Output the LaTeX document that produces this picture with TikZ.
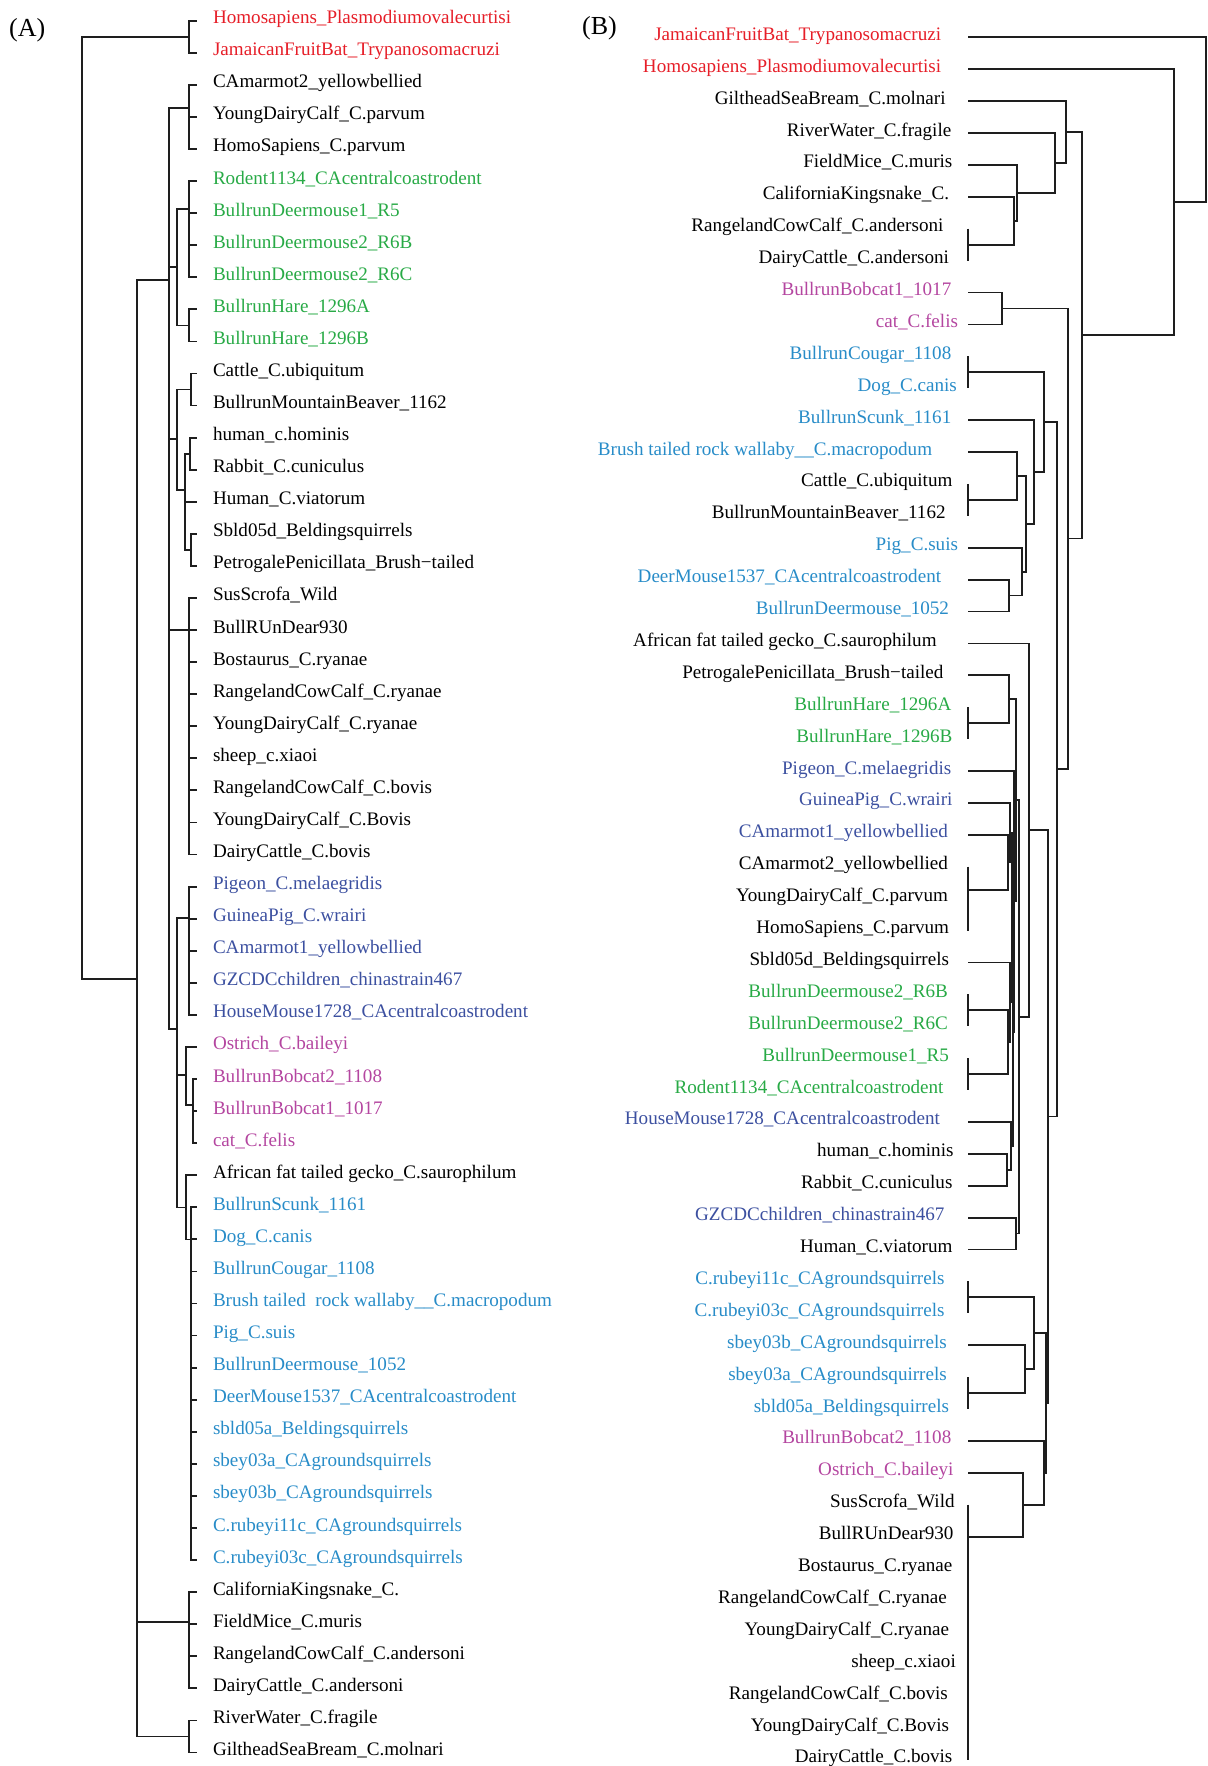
\documentclass[tikz,border=0pt]{standalone}
\usepackage{fontspec}
\setmainfont{Liberation Serif}
\definecolor{cr}{RGB}{230,30,40}
\definecolor{cg}{RGB}{40,170,70}
\definecolor{cdb}{RGB}{60,80,160}
\definecolor{clb}{RGB}{40,140,200}
\definecolor{cm}{RGB}{180,70,160}
\definecolor{ck}{RGB}{0,0,0}
\definecolor{lc}{RGB}{30,30,30}
\tikzset{
  tree/.style={line width=1.8pt, draw=lc},
  lab/.style={inner sep=0pt, font=\fontsize{19.1}{23}\selectfont},
  plab/.style={inner sep=0pt, font=\fontsize{26}{30}\selectfont, anchor=base west}
}
\begin{document}
\begin{tikzpicture}[x=1pt,y=-1pt]
\useasboundingbox (0,0) rectangle (1207,1766);
\node[plab] (pA) at (9,37) {(A)};
\node[plab] (pB) at (582,35) {(B)};
% ---------------- Panel A leaves ----------------
\foreach \i/\t/\c in {
1/Homosapiens\_Plasmodiumovalecurtisi/cr,
2/JamaicanFruitBat\_Trypanosomacruzi/cr,
3/CAmarmot2\_yellowbellied/ck,
4/YoungDairyCalf\_C.parvum/ck,
5/HomoSapiens\_C.parvum/ck,
6/Rodent1134\_CAcentralcoastrodent/cg,
7/BullrunDeermouse1\_R5/cg,
8/BullrunDeermouse2\_R6B/cg,
9/BullrunDeermouse2\_R6C/cg,
10/BullrunHare\_1296A/cg,
11/BullrunHare\_1296B/cg,
12/Cattle\_C.ubiquitum/ck,
13/BullrunMountainBeaver\_1162/ck,
14/human\_c.hominis/ck,
15/Rabbit\_C.cuniculus/ck,
16/Human\_C.viatorum/ck,
17/Sbld05d\_Beldingsquirrels/ck,
18/PetrogalePenicillata\_Brush−tailed/ck,
19/SusScrofa\_Wild/ck,
20/BullRUnDear930/ck,
21/Bostaurus\_C.ryanae/ck,
22/RangelandCowCalf\_C.ryanae/ck,
23/YoungDairyCalf\_C.ryanae/ck,
24/sheep\_c.xiaoi/ck,
25/RangelandCowCalf\_C.bovis/ck,
26/YoungDairyCalf\_C.Bovis/ck,
27/DairyCattle\_C.bovis/ck,
28/Pigeon\_C.melaegridis/cdb,
29/GuineaPig\_C.wrairi/cdb,
30/CAmarmot1\_yellowbellied/cdb,
31/GZCDCchildren\_chinastrain467/cdb,
32/HouseMouse1728\_CAcentralcoastrodent/cdb,
33/Ostrich\_C.baileyi/cm,
34/BullrunBobcat2\_1108/cm,
35/BullrunBobcat1\_1017/cm,
36/cat\_C.felis/cm,
37/African fat tailed gecko\_C.saurophilum/ck,
38/BullrunScunk\_1161/clb,
39/Dog\_C.canis/clb,
40/BullrunCougar\_1108/clb,
41/Brush tailed\ \ rock wallaby\_\_C.macropodum/clb,
42/Pig\_C.suis/clb,
43/BullrunDeermouse\_1052/clb,
44/DeerMouse1537\_CAcentralcoastrodent/clb,
45/sbld05a\_Beldingsquirrels/clb,
46/sbey03a\_CAgroundsquirrels/clb,
47/sbey03b\_CAgroundsquirrels/clb,
48/C.rubeyi11c\_CAgroundsquirrels/clb,
49/C.rubeyi03c\_CAgroundsquirrels/clb,
50/CaliforniaKingsnake\_C./ck,
51/FieldMice\_C.muris/ck,
52/RangelandCowCalf\_C.andersoni/ck,
53/DairyCattle\_C.andersoni/ck,
54/RiverWater\_C.fragile/ck,
55/GiltheadSeaBream\_C.molnari/ck}{
  \coordinate (aL\i) at (197,{20.7+(\i-1)*32.07});
  \node[lab, anchor=base west, text=\c] (aT\i) at (212.8,{23.7+(\i-1)*32.07}) {\t};
}
% ---------------- Panel A internal nodes ----------------
\coordinate (aR) at (82.3,508);
\coordinate (n12) at (189,36.75);
\coordinate (nK) at (136.7,979);
\coordinate (nX) at (169,280);
\coordinate (n35) at (189,108);
\coordinate (n611) at (176.7,267);
\coordinate (n69) at (189,209);
\coordinate (n1011) at (189,325.4);
\coordinate (n1218) at (176.7,439);
\coordinate (n1213) at (190.7,389.5);
\coordinate (n1418) at (185,490);
\coordinate (n1415) at (190,453.6);
\coordinate (n1718) at (190.7,550);
\coordinate (n1927) at (189,630);
\coordinate (n2849) at (176.7,1029);
\coordinate (n2832) at (189,918);
\coordinate (n3336) at (185.7,1075);
\coordinate (n3436) at (192.7,1105);
\coordinate (n3749) at (185.7,1207.5);
\coordinate (n3849) at (190.7,1239.4);
\coordinate (n5053) at (189,1622);
\coordinate (n5455) at (189,1736.5);
\draw[tree] (aR) |- (n12) (aR) |- (nK);
\draw[tree] (n12) |- (aL1) (n12) |- (aL2);
\draw[tree] (nK) |- (nX) (nK) |- (n5053) (nK) |- (n5455);
\draw[tree] (nX) |- (n35) (nX) |- (n611) (nX) |- (n1218) (nX) |- (n1927) (nX) |- (n2849);
\draw[tree] (n35) |- (aL3) (n35) |- (aL4) (n35) |- (aL5);
\draw[tree] (n611) |- (n69) (n611) |- (n1011);
\draw[tree] (n69) |- (aL6) (n69) |- (aL7) (n69) |- (aL8) (n69) |- (aL9);
\draw[tree] (n1011) |- (aL10) (n1011) |- (aL11);
\draw[tree] (n1218) |- (n1213) (n1218) |- (n1418);
\draw[tree] (n1213) |- (aL12) (n1213) |- (aL13);
\draw[tree] (n1418) |- (n1415) (n1418) |- (aL16) (n1418) |- (n1718);
\draw[tree] (n1415) |- (aL14) (n1415) |- (aL15);
\draw[tree] (n1718) |- (aL17) (n1718) |- (aL18);
\foreach \k in {19,...,27} { \draw[tree] (n1927) |- (aL\k); }
\draw[tree] (n2849) |- (n2832) (n2849) |- (n3336) (n2849) |- (n3749);
\foreach \k in {28,...,32} { \draw[tree] (n2832) |- (aL\k); }
\draw[tree] (n3336) |- (aL33) (n3336) |- (n3436);
\draw[tree] (n3436) |- (aL34) (n3436) |- (aL35) (n3436) |- (aL36);
\draw[tree] (n3749) |- (aL37) (n3749) |- (n3849);
\foreach \k in {38,...,49} { \draw[tree] (n3849) |- (aL\k); }
\foreach \k in {50,...,53} { \draw[tree] (n5053) |- (aL\k); }
\draw[tree] (n5455) |- (aL54) (n5455) |- (aL55);
% ---------------- Panel B leaves ----------------
\foreach \i/\r/\t/\c in {
1/941.3/JamaicanFruitBat\_Trypanosomacruzi/cr,
2/941.3/Homosapiens\_Plasmodiumovalecurtisi/cr,
3/945.8/GiltheadSeaBream\_C.molnari/ck,
4/951.5/RiverWater\_C.fragile/ck,
5/952.6/FieldMice\_C.muris/ck,
6/949.2/CaliforniaKingsnake\_C./ck,
7/943.6/RangelandCowCalf\_C.andersoni/ck,
8/949.2/DairyCattle\_C.andersoni/ck,
9/951.5/BullrunBobcat1\_1017/cm,
10/958.2/cat\_C.felis/cm,
11/951.5/BullrunCougar\_1108/clb,
12/957.1/Dog\_C.canis/clb,
13/951.5/BullrunScunk\_1161/clb,
14/932.3/Brush tailed rock wallaby\_\_C.macropodum/clb,
15/952.6/Cattle\_C.ubiquitum/ck,
16/945.8/BullrunMountainBeaver\_1162/ck,
17/958.2/Pig\_C.suis/clb,
18/941.3/DeerMouse1537\_CAcentralcoastrodent/clb,
19/949.2/BullrunDeermouse\_1052/clb,
20/936.8/African fat tailed gecko\_C.saurophilum/ck,
21/943.6/PetrogalePenicillata\_Brush−tailed/ck,
22/951.5/BullrunHare\_1296A/cg,
23/952.6/BullrunHare\_1296B/cg,
24/951.5/Pigeon\_C.melaegridis/cdb,
25/952.6/GuineaPig\_C.wrairi/cdb,
26/948.1/CAmarmot1\_yellowbellied/cdb,
27/948.1/CAmarmot2\_yellowbellied/ck,
28/948.1/YoungDairyCalf\_C.parvum/ck,
29/949.2/HomoSapiens\_C.parvum/ck,
30/949.2/Sbld05d\_Beldingsquirrels/ck,
31/948.1/BullrunDeermouse2\_R6B/cg,
32/948.1/BullrunDeermouse2\_R6C/cg,
33/949.2/BullrunDeermouse1\_R5/cg,
34/943.6/Rodent1134\_CAcentralcoastrodent/cg,
35/940.2/HouseMouse1728\_CAcentralcoastrodent/cdb,
36/953.7/human\_c.hominis/ck,
37/952.6/Rabbit\_C.cuniculus/ck,
38/944.7/GZCDCchildren\_chinastrain467/cdb,
39/952.6/Human\_C.viatorum/ck,
40/944.7/C.rubeyi11c\_CAgroundsquirrels/clb,
41/944.7/C.rubeyi03c\_CAgroundsquirrels/clb,
42/947.0/sbey03b\_CAgroundsquirrels/clb,
43/947.0/sbey03a\_CAgroundsquirrels/clb,
44/949.2/sbld05a\_Beldingsquirrels/clb,
45/951.5/BullrunBobcat2\_1108/cm,
46/953.7/Ostrich\_C.baileyi/cm,
47/954.8/SusScrofa\_Wild/ck,
48/953.7/BullRUnDear930/ck,
49/952.6/Bostaurus\_C.ryanae/ck,
50/947.0/RangelandCowCalf\_C.ryanae/ck,
51/949.2/YoungDairyCalf\_C.ryanae/ck,
52/956.0/sheep\_c.xiaoi/ck,
53/948.1/RangelandCowCalf\_C.bovis/ck,
54/949.2/YoungDairyCalf\_C.Bovis/ck,
55/952.6/DairyCattle\_C.bovis/ck}{
  \coordinate (bL\i) at (968,{37.3+(\i-1)*31.9});
  \node[lab, anchor=base east, text=\c] (bT\i) at (\r,{40.3+(\i-1)*31.9}) {\t};
}
% zero-length sister groups (bars)
\coordinate (bar78) at (968,244.65);
\coordinate (bar1112) at (968,372.25);
\coordinate (bar1516) at (968,499.85);
\coordinate (bar2223) at (968,723.15);
\coordinate (bar2729) at (968,890);
\coordinate (bar3132) at (968,1010.25);
\coordinate (bar3334) at (968,1074.05);
\coordinate (bar4041) at (968,1297.35);
\coordinate (bar4344) at (968,1393.05);
\coordinate (bar4755) at (968,1536.6);
\draw[tree] (bL7) -- (bL8) (bL11) -- (bL12) (bL15) -- (bL16) (bL22) -- (bL23)
  (bL27) -- (bL29) (bL31) -- (bL32) (bL33) -- (bL34) (bL40) -- (bL41)
  (bL43) -- (bL44) (bL47) -- (bL55);
% ---------------- Panel B internal nodes ----------------
\coordinate (bR) at (1205.8,119.75);
\coordinate (b2x) at (1174.3,202.2);
\coordinate (b3x) at (1082.3,335.2);
\coordinate (b3a) at (1066,132);
\coordinate (b4a) at (1055.3,162.9);
\coordinate (b5a) at (1017.3,192.8);
\coordinate (b6a) at (1014.3,220.7);
\coordinate (b9x) at (1068.3,538.4);
\coordinate (b910) at (1002.3,308.45);
\coordinate (b11x) at (1056.7,769.2);
\coordinate (b11a) at (1044.3,422);
\coordinate (b13a) at (1034.3,471.7);
\coordinate (b14x) at (1025.7,523.8);
\coordinate (b14a) at (1016.7,475.9);
\coordinate (b17a) at (1022,571.6);
\coordinate (b1819) at (1009,595.55);
\coordinate (b20x) at (1047.8,1116.5);
\coordinate (b20a) at (1029.3,830);
\coordinate (b21x) at (1019,1016.7);
\coordinate (bS1) at (1015.7,800.3);
\coordinate (ba) at (1009,699.25);
\coordinate (bQ) at (1014.3,901.4);
\coordinate (bj) at (1013.3,1031.7);
\coordinate (bi) at (1011.7,917.5);
\coordinate (bd) at (1010,832.65);
\coordinate (bc) at (1008.3,862.4);
\coordinate (bf) at (1010,1002.2);
\coordinate (be) at (1008.3,1042.1);
\coordinate (bh) at (1011,1145.85);
\coordinate (bg) at (1006.7,1169.75);
\coordinate (b3839) at (1016,1233.55);
\coordinate (b40x) at (1045.7,1403);
\coordinate (b40a) at (1033.7,1333.2);
\coordinate (b42a) at (1025,1369.1);
\coordinate (b45a) at (1044,1472.8);
\coordinate (b46a) at (1023.3,1504.7);
\draw[tree] (bR) |- (bL1) (bR) |- (b2x);
\draw[tree] (b2x) |- (bL2) (b2x) |- (b3x);
\draw[tree] (b3x) |- (b3a) (b3x) |- (b9x);
\draw[tree] (b3a) |- (bL3) (b3a) |- (b4a);
\draw[tree] (b4a) |- (bL4) (b4a) |- (b5a);
\draw[tree] (b5a) |- (bL5) (b5a) |- (b6a);
\draw[tree] (b6a) |- (bL6) (b6a) |- (bar78);
\draw[tree] (b9x) |- (b910) (b9x) |- (b11x);
\draw[tree] (b910) |- (bL9) (b910) |- (bL10);
\draw[tree] (b11x) |- (b11a) (b11x) |- (b20x);
\draw[tree] (b11a) |- (bar1112) (b11a) |- (b13a);
\draw[tree] (b13a) |- (bL13) (b13a) |- (b14x);
\draw[tree] (b14x) |- (b14a) (b14x) |- (b17a);
\draw[tree] (b14a) |- (bL14) (b14a) |- (bar1516);
\draw[tree] (b17a) |- (bL17) (b17a) |- (b1819);
\draw[tree] (b1819) |- (bL18) (b1819) |- (bL19);
\draw[tree] (b20x) |- (b20a) (b20x) |- (b40x);
\draw[tree] (b20a) |- (bL20) (b20a) |- (b21x);
\draw[tree] (b21x) |- (bS1) (b21x) |- (b3839);
\draw[tree] (bS1) |- (ba) (bS1) |- (bQ);
\draw[tree] (ba) |- (bL21) (ba) |- (bar2223);
\draw[tree] (bQ) |- (bL24) (bQ) |- (bj);
\draw[tree] (bj) |- (bi) (bj) |- (bh);
\draw[tree] (bi) |- (bd) (bi) |- (bf);
\draw[tree] (bd) |- (bL25) (bd) |- (bc);
\draw[tree] (bc) |- (bL26) (bc) |- (bar2729);
\draw[tree] (bf) |- (bL30) (bf) |- (be);
\draw[tree] (be) |- (bar3132) (be) |- (bar3334);
\draw[tree] (bh) |- (bL35) (bh) |- (bg);
\draw[tree] (bg) |- (bL36) (bg) |- (bL37);
\draw[tree] (b3839) |- (bL38) (b3839) |- (bL39);
\draw[tree] (b40x) |- (b40a) (b40x) |- (b45a);
\draw[tree] (b40a) |- (bar4041) (b40a) |- (b42a);
\draw[tree] (b42a) |- (bL42) (b42a) |- (bar4344);
\draw[tree] (b45a) |- (bL45) (b45a) |- (b46a);
\draw[tree] (b46a) |- (bL46) (b46a) |- (bar4755);
\end{tikzpicture}
\end{document}
